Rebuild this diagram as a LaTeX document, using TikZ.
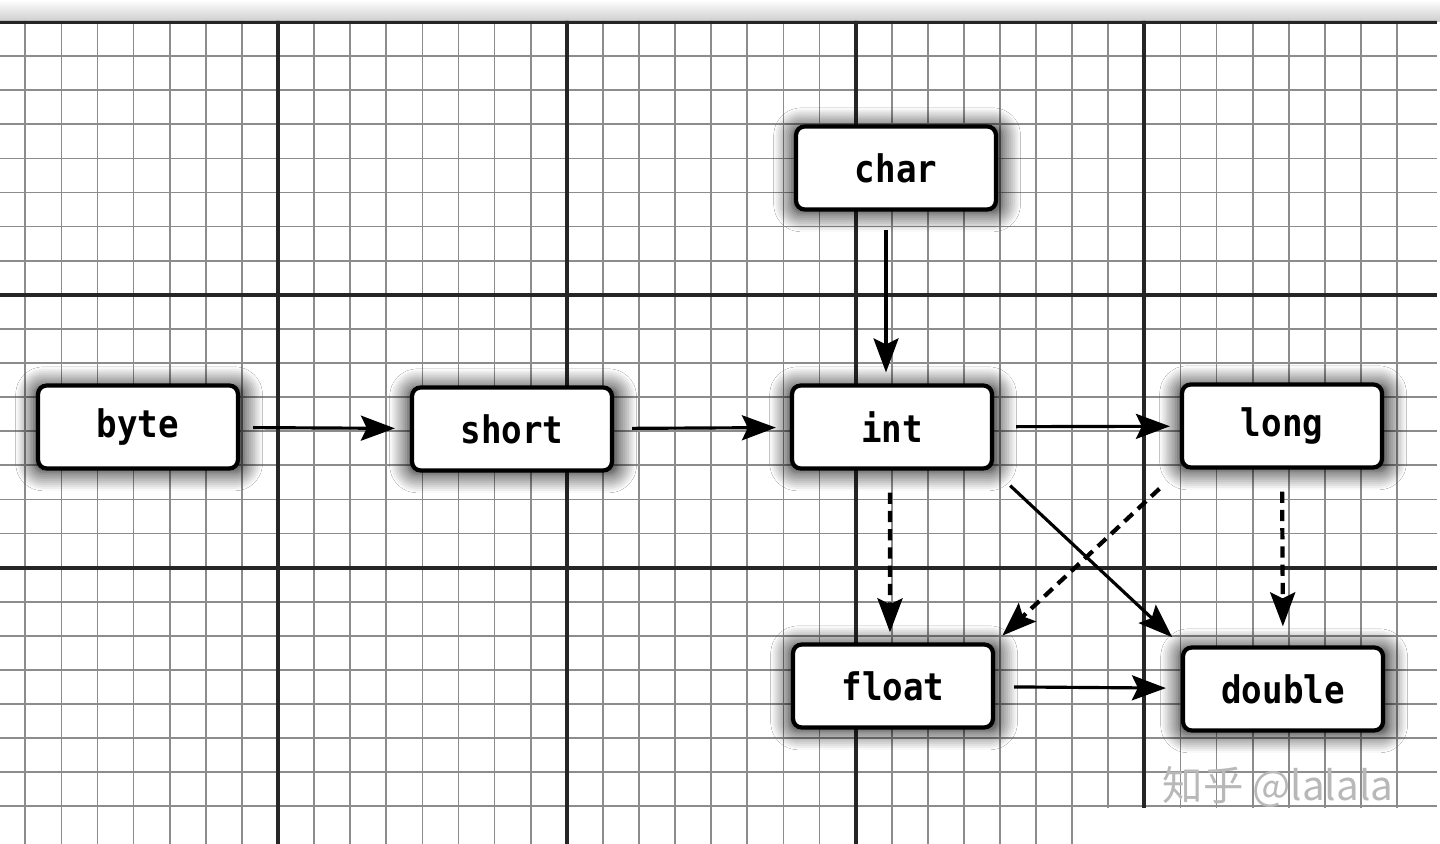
\documentclass[tikz,border=0pt]{standalone}
\usepackage{fontspec}
\usetikzlibrary{arrows.meta,shadows.blur}
\newfontfamily\typefont{DejaVu Sans Mono}[FakeStretch=0.9]
\newfontfamily\cjkfont{Noto Sans CJK SC}

\tikzset{
  typebox/.style={draw, line width=1.2pt, rounded corners=2.5pt, fill=white,
    minimum width=2cm, minimum height=0.83cm, inner sep=0pt,
    font=\typefont\bfseries\fontsize{10.8}{12}\selectfont,
    blur shadow={shadow xshift=0.3pt, shadow yshift=-0.5pt, shadow blur radius=5pt,
      shadow blur steps=10, shadow opacity=95, shadow scale=1.05}},
  conv/.style={->, line width=0.9pt},
  lossy/.style={->, line width=1.2pt, dash pattern=on 3.2pt off 2pt},
  fineline/.style={black!45, line width=0.5pt},
  majorline/.style={black!85, line width=1pt},
}

\begin{document}
\begin{tikzpicture}[>={Stealth[length=3.4mm,width=2.5mm,inset=0.6mm]}]
    \useasboundingbox (0,0) rectangle (14.4,-8.44);
    \fill[white] (0,0) rectangle (14.4,-8.44);
    \shade[top color=white, bottom color=black!20] (0,0) rectangle (14.4,-0.22);

    % grid paper
    \begin{scope}
        \clip (0,-0.21) -- (14.37,-0.21) -- (14.37,-8.08) -- (10.88,-8.08)
              -- (10.88,-8.44) -- (0,-8.44) -- cycle;
        \foreach \i in {-7,...,31}
            \draw[fineline] (2.78+0.361*\i, -0.2) -- (2.78+0.361*\i, -8.44);
        \foreach \j in {0,...,23}
            \draw[fineline] (0, -0.22-0.341*\j) -- (14.37, -0.22-0.341*\j);
        \foreach \x in {2.78,5.67,8.56,11.44}
            \draw[majorline] (\x, -0.2) -- (\x, -8.44);
        \foreach \y in {-0.22,-2.95,-5.68}
            \draw[majorline] (0, \y) -- (14.37, \y);
    \end{scope}

    \node[typebox] (byte)   at (1.38,-4.27)  {byte};
    \node[typebox] (short)  at (5.12,-4.29)  {short};
    \node[typebox] (int)    at (8.92,-4.27)  {int};
    \node[typebox] (long)   at (12.82,-4.26) {long};
    \node[typebox] (char)   at (8.96,-1.68)  {char};
    \node[typebox] (float)  at (8.93,-6.86)  {float};
    \node[typebox] (double) at (12.83,-6.89) {double};

    \draw[conv, shorten <=0.13cm, shorten >=0.15cm] (byte) -- (short);
    \draw[conv, shorten <=0.18cm, shorten >=0.14cm] (short) -- (int);
    \draw[conv, shorten <=0.22cm, shorten >=0.10cm] (int) -- (long);
    \draw[conv, shorten <=0.18cm, shorten >=0.11cm]
        ([xshift=-1mm]char.south) -- ([xshift=-1mm]char.south |- int.north);
    \draw[lossy, shorten <=0.22cm, shorten >=0.10cm]
        ([xshift=-0.2mm]int.south) -- ([xshift=-0.3mm]float.north);
    \draw[conv, shorten <=0.22cm, shorten >=0.12cm] (int.south east) -- (double.north west);
    \draw[lossy, shorten <=0.28cm, shorten >=0.10cm] (long.south west) -- (float.north east);
    \draw[lossy, shorten <=0.22cm, shorten >=0.19cm] (long.south) -- (double.north);
    \draw[conv, shorten <=0.19cm, shorten >=0.15cm] (float) -- (double);

    \node[text=black!28, font=\cjkfont\fontsize{11.5}{13}\selectfont] (mark) at (12.78,-7.87) {知乎 @lalala};
\end{tikzpicture}
\end{document}
